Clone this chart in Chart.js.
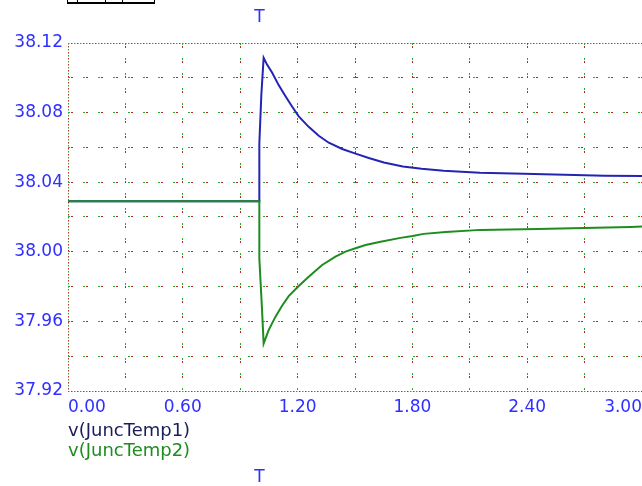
<!DOCTYPE html>
<html>
<head>
<meta charset="utf-8">
<title>v(JuncTemp)</title>
<script src="https://cdn.jsdelivr.net/npm/chart.js@4.4.1/dist/chart.umd.min.js"></script>
<style>
    html, body { margin: 0; padding: 0; background: #fff; overflow: hidden; }
    #wrap { position: relative; width: 642px; height: 486px; overflow: hidden; }
    #tabs { position: absolute; left: 67px; top: 0; width: 86px; height: 2px;
            border: 1px solid #000; border-top: none; border-bottom-width: 2px; }
    #tabs span { position: absolute; top: 0; height: 2px; border-left: 1px solid #000; }
    canvas { position: absolute; left: 0; top: 0; }
</style>
</head>
<body>
<div id="wrap">
    <!-- canvas is a little wider than the window: the plot runs off the right edge like the original -->
    <canvas id="temp-chart" width="648" height="486"></canvas>
    <div id="tabs"><span style="left:9px"></span><span style="left:37px"></span><span style="left:54px"></span></div>
</div>
<script>
// cursor position (the two "T" markers)
const cursorT = 1.0;

const xTickLabels = ['0.00', '0.60', '1.20', '1.80', '2.40', '3.00'];
const yTickLabels = ['37.92', '37.96', '38.00', '38.04', '38.08', '38.12'];
const seriesNames = ['v(JuncTemp1)', 'v(JuncTemp2)'];

// v(JuncTemp1)
const time1 = [0, 1.0, 1.0, 1.0105, 1.0225, 1.0403, 1.0665, 1.101, 1.136, 1.171, 1.206,
               1.258, 1.3105, 1.363, 1.433, 1.503, 1.572, 1.651, 1.75, 1.848, 1.963,
               2.152, 2.382, 2.806, 3.0];
const temp1 = [38.029, 38.029, 38.0621, 38.0903, 38.1115, 38.1076, 38.1030, 38.0958, 38.0895, 38.0835, 38.0778,
               38.0718, 38.0667, 38.0627, 38.0591, 38.0564, 38.0539, 38.0513, 38.049, 38.0477, 38.0466,
               38.0454, 38.0448, 38.0437, 38.0436];

// v(JuncTemp2)
const time2 = [0, 1.0, 1.0, 1.014, 1.0225, 1.0487, 1.0838, 1.1188, 1.1534, 1.2058, 1.2581,
               1.3283, 1.3979, 1.4503, 1.5026, 1.555, 1.6335, 1.738, 1.801, 1.859, 1.974,
               2.157, 2.455, 2.942, 3.0];
const temp2 = [38.029, 38.029, 37.9963, 37.9669, 37.9473, 37.955, 37.9626, 37.9690, 37.9745, 37.9803, 37.9857,
               37.9924, 37.9972, 38.0001, 38.002, 38.0039, 38.0058, 38.008, 38.0091, 38.0103, 38.0114,
               38.0126, 38.0131, 38.0143, 38.0145];

const lineColors = ['#2424b4', '#1e8c1e'];
const labelColors = ['#1c1c5c', '#1e8c1e'];
const tickBlue = '#2f2fff';
const gridGreen = 'rgb(40,170,40)';
const gridRed = 'rgb(185,40,40)';
const fontFamily = '"DejaVu Sans", sans-serif';

const toPoints = (xs, ys) => xs.map((x, i) => ({ x: x, y: ys[i] }));

// edge lines are dense dots, inner lines are sparse red/green pairs
const isEdge = c => c.index === 0 || c.index === c.scale.ticks.length - 1;
const dashOf = c => isEdge(c) ? [1.5, 4.5] : [2, 13];
const greenOffset = c => 0;
const redOffset = c => isEdge(c) ? 3 : 12;

const overlayText = {
    id: 'overlayText',
    afterDraw(chart) {
        const ctx = chart.ctx;
        const area = chart.chartArea;
        const xScale = chart.scales.x;
        ctx.save();
        ctx.textBaseline = 'middle';

        // trace names under the plot
        ctx.font = '18px ' + fontFamily;
        ctx.textAlign = 'left';
        chart.data.datasets.forEach((ds, i) => {
            ctx.fillStyle = labelColors[i];
            ctx.fillText(ds.label, area.left, area.bottom + 40 + i * 20);
        });

        // cursor markers
        const cx = xScale.getPixelForValue(cursorT);
        ctx.font = '17px ' + fontFamily;
        ctx.textAlign = 'center';
        ctx.fillStyle = tickBlue;
        ctx.fillText('T', cx, area.top - 25);
        ctx.fillText('T', cx, area.bottom + 87);
        ctx.restore();
    }
};

const ctx = document.getElementById('temp-chart').getContext('2d');
const tempChart = new Chart(ctx, {
    type: 'line',
    data: {
        datasets: [{
            label: seriesNames[0],
            data: toPoints(time1, temp1),
            borderColor: lineColors[0],
            borderWidth: 2,
            pointRadius: 0,
            tension: 0,
            order: 1
        }, {
            label: seriesNames[1],
            data: toPoints(time2, temp2),
            borderColor: lineColors[1],
            borderWidth: 2,
            pointRadius: 0,
            tension: 0,
            order: 0
        }]
    },
    options: {
        responsive: false,
        animation: false,
        devicePixelRatio: 1,
        layout: { padding: { top: 43, right: 0, bottom: 0, left: 0 } },
        plugins: {
            legend: { display: false },
            tooltip: { enabled: false }
        },
        scales: {
            x: {
                type: 'linear',
                position: 'bottom',
                min: 0,
                max: 3,
                afterFit: s => { s.height = 95; },
                ticks: {
                    stepSize: 0.3,
                    autoSkip: false,
                    maxRotation: 0,
                    align: 'inner',
                    padding: 6,
                    color: tickBlue,
                    font: { family: fontFamily, size: 17 },
                    callback: (v, i) => i % 2 === 0 ? xTickLabels[i / 2] : ''
                },
                grid: { color: gridGreen, lineWidth: 1, drawTicks: false },
                border: { display: false, dash: dashOf, dashOffset: greenOffset }
            },
            x2: {
                type: 'linear',
                position: 'bottom',
                min: 0,
                max: 3,
                afterFit: s => { s.height = 0; },
                ticks: { stepSize: 0.3, autoSkip: false, display: false },
                grid: { color: gridRed, lineWidth: 1, drawTicks: false },
                border: { display: false, dash: dashOf, dashOffset: redOffset }
            },
            y: {
                type: 'linear',
                position: 'left',
                min: 37.92,
                max: 38.12,
                afterFit: s => { s.width = 68; },
                ticks: {
                    stepSize: 0.02,
                    autoSkip: false,
                    padding: 5,
                    color: tickBlue,
                    font: { family: fontFamily, size: 17 },
                    callback: (v, i) => i % 2 === 0 ? yTickLabels[i / 2] : ''
                },
                grid: { color: gridGreen, lineWidth: 1, drawTicks: false },
                border: { display: false, dash: dashOf, dashOffset: greenOffset }
            },
            y2: {
                type: 'linear',
                position: 'left',
                min: 37.92,
                max: 38.12,
                afterFit: s => { s.width = 0; },
                ticks: { stepSize: 0.02, autoSkip: false, display: false },
                grid: { color: gridRed, lineWidth: 1, drawTicks: false },
                border: { display: false, dash: dashOf, dashOffset: redOffset }
            }
        }
    },
    plugins: [overlayText]
});
</script>
</body>
</html>
